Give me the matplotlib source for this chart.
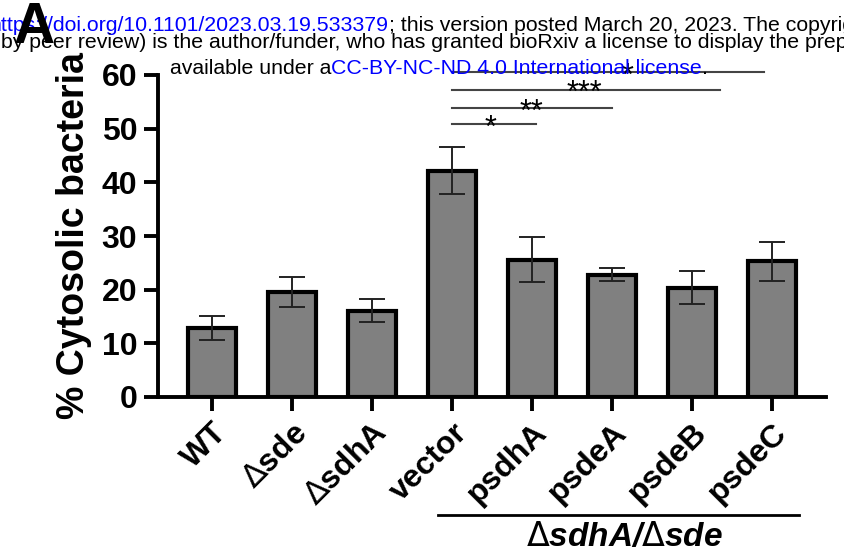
import matplotlib.pyplot as plt
from matplotlib.transforms import blended_transform_factory, ScaledTranslation

plt.rcParams['font.family'] = ['Liberation Sans', 'DejaVu Sans']
plt.rcParams['mathtext.fontset'] = 'dejavusans'

# data
strains = ['WT', r'$\Delta$sde', r'$\Delta$sdhA', 'vector', 'psdhA', 'psdeA', 'psdeB', 'psdeC']
cytosolic = [12.9, 19.6, 16.1, 42.2, 25.6, 22.8, 20.4, 25.3]
sem = [2.2, 2.8, 2.2, 4.4, 4.2, 1.2, 3.1, 3.6]
yticks = [0, 10, 20, 30, 40, 50, 60]

# significance brackets: (start, end, height, stars, star x)
sig_start = [3.0, 3.0, 3.0, 3.0]
sig_end = [4.05, 5.0, 6.35, 6.9]
sig_y = [50.8, 53.8, 57.2, 60.5]
sig_txt = ['*', '**', '***', '*']
sig_star_x = [3.48, 3.99, 4.65, 5.19]

group_label = r'$\Delta$sdhA/$\Delta$sde'
group_span = [2.83, 7.34]

fig = plt.figure(figsize=(8.44, 5.52), dpi=100)
ax = fig.add_axes([158 / 844, 155 / 552, 668 / 844, 322 / 552])

x = list(range(len(strains)))
ax.bar(x, cytosolic, width=0.61, color='#808080', edgecolor='black', linewidth=3, zorder=2)
ax.errorbar(x, cytosolic, yerr=sem, fmt='none', ecolor='#222222', elinewidth=1.4,
            capsize=9.5, capthick=1.4, zorder=3)

ax.set_xlim(-0.675, 7.675)
ax.set_ylim(0, 60)
ax.set_yticks(yticks)
ax.set_xticks(x)
ax.set_xticklabels(strains, rotation=45, ha='right', va='top', rotation_mode='anchor',
                   fontsize=23, fontweight='bold')
for lab in ax.get_xticklabels():
    lab.set_transform(lab.get_transform() + ScaledTranslation(0.2, 0.0, fig.dpi_scale_trans))

for t in ax.get_yticklabels():
    t.set_fontsize(23)
    t.set_fontweight('bold')

for s in ['top', 'right']:
    ax.spines[s].set_visible(False)
for s in ['left', 'bottom']:
    ax.spines[s].set_linewidth(2.8)
ax.tick_params(axis='both', width=2.8, length=10, pad=5)
ax.set_ylabel('% Cytosolic bacteria', fontsize=27, fontweight='bold', labelpad=7)

# brackets
for a, b, h, s, sx in zip(sig_start, sig_end, sig_y, sig_txt, sig_star_x):
    ax.plot([a, b], [h, h], color='#444444', lw=1.5, clip_on=False)
    ax.text(sx, h - 2.3, s, ha='center', va='baseline', fontsize=22)

# group bar under labels
trans = blended_transform_factory(ax.transData, ax.transAxes)
ax.plot(group_span, [-0.366, -0.366], color='black', lw=2, transform=trans, clip_on=False)
ax.text(5.15, -0.435, group_label, transform=trans, ha='center', va='center',
        fontsize=24, fontweight='bold', style='italic')

# preprint header overlay
hs = 15.3
t1 = fig.text(-0.012, 1 - 35 / 552, 'https://doi.org/10.1101/2023.03.19.533379',
              color='blue', fontsize=hs, va='bottom', zorder=10)
ax.annotate('; this version posted March 20, 2023. The copyright holder for this preprint',
            xy=(1, 0), xycoords=t1, va='bottom', ha='left', fontsize=hs, zorder=10)
fig.text(0.001, 1 - 52 / 552,
         'by peer review) is the author/funder, who has granted bioRxiv a license to display the preprint in perpetuity.',
         fontsize=hs, va='bottom', zorder=10)
t3 = fig.text(170 / 844, 1 - 78 / 552, 'available under a', fontsize=hs, va='bottom', zorder=10)
t4 = ax.annotate('CC-BY-NC-ND 4.0 International license', xy=(1, 0), xycoords=t3,
                 va='bottom', ha='left', fontsize=hs, color='blue', zorder=10)
ax.annotate('.', xy=(1, 0), xycoords=t4, va='bottom', ha='left', fontsize=hs, zorder=10)

fig.text(14 / 844, 1 - 43 / 552, 'A', fontsize=41, fontweight='bold', va='baseline', zorder=11)

fig.savefig('out.png', dpi=100)
